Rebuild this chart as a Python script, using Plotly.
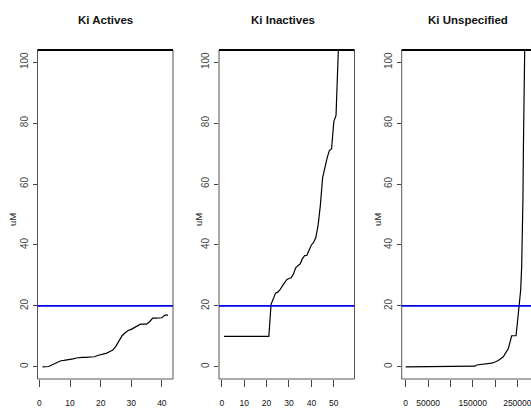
import plotly.graph_objects as go

# ---- data -------------------------------------------------------------
titles = ["Ki Actives", "Ki Inactives", "Ki Unspecified"]
y_label = "uM"
cutoff_um = 20

# sorted Ki values (uM) for the active compounds, ranks 1..42
actives_ki = [0.0, 0.0, 0.1, 0.6, 1.1, 1.6, 2.0, 2.1, 2.2, 2.4,
              2.6, 2.9, 3.1, 3.1, 3.1, 3.1, 3.1, 3.3, 3.7, 4.0,
              4.1, 4.5, 5.0, 5.5, 6.8, 8.7, 10.2, 11.2, 11.9, 12.3,
              12.8, 13.3, 14.0, 14.0, 14.0, 14.8, 16.0, 16.0, 16.0, 16.1,
              17.0, 17.0]

# sorted Ki values (uM) for the inactive compounds, ranks 1..57
inactives_ki = [10, 10, 10, 10, 10, 10, 10, 10, 10, 10,
                10, 10, 10, 10, 10, 10, 10, 10, 10, 10,
                10, 20.5, 22.5, 24.2, 24.5, 25.3, 26.5, 27.8, 28.6, 29.0,
                29.2, 30.5, 32.5, 33.2, 33.8, 35.5, 36.5, 36.6, 38.5, 40.0,
                40.8, 42.5, 46.5, 53.0, 62.0, 65.5, 68.5, 71.0, 71.5, 80.5,
                82.5, 103.5, 150, 250, 500, 1000, 2500]

# unspecified compounds: rank / sorted Ki (uM) breakpoints
unspec_rank = [1, 60000, 120000, 155000, 159000, 181000, 192600, 200000,
               207400, 218600, 229800, 237300, 247000, 250000, 254400,
               257500, 259700, 261000, 262500, 263500, 266400, 268600,
               271000, 275000]
unspec_ki = [0.0, 0.0, 0.1, 0.2, 0.6, 1.0, 1.2, 1.6,
             2.1, 3.3, 6.0, 10.2, 10.2, 14.3, 20.3,
             25.3, 33.0, 40.0, 55.0, 71.0, 92.0, 100.0,
             110.0, 200.0]

x_ticks = [[0, 10, 20, 30, 40],
           [0, 10, 20, 30, 40, 50],
           [0, 50000, 100000, 150000, 200000, 250000, 300000]]
x_ticktext = [["0", "10", "20", "30", "40"],
              ["0", "10", "20", "30", "40", "50"],
              ["0", "50000", "", "150000", "", "250000", ""]]
y_ticks = [0, 20, 40, 60, 80, 100]

# ---- layout geometry (pixels in a 531 x 410 page) ---------------------
W, H = 531, 410
panel_px = [(37.5, 173.0), (219.0, 354.5), (401.7, 531.0)]
top_px, bottom_px = 50.0, 379.0
x_ranges = [[-0.64, 43.64], [-1.24, 59.24], [-8957, 280564]]
y_range = [-4, 104]

sans = "Liberation Sans, Arial, sans-serif"

fig = go.Figure()

series = [
    (list(range(1, len(actives_ki) + 1)), actives_ki),
    (list(range(1, len(inactives_ki) + 1)), inactives_ki),
    (unspec_rank, unspec_ki),
]

shapes = []
annotations = []
ydom = [(H - bottom_px) / H, (H - top_px) / H]

for i, (xs, ys) in enumerate(series):
    sfx = "" if i == 0 else str(i + 1)
    xa, ya = "x" + sfx, "y" + sfx
    fig.add_trace(go.Scatter(
        x=xs, y=ys, mode="lines", xaxis=xa, yaxis=ya,
        line=dict(color="black", width=1.2), showlegend=False,
        hoverinfo="skip",
    ))
    left, right = panel_px[i]
    fig.layout["xaxis" + sfx] = dict(
        domain=[left / W, right / W], range=x_ranges[i], anchor=ya,
        showgrid=False, zeroline=False, showline=False,
        tickmode="array", tickvals=x_ticks[i], ticktext=x_ticktext[i],
        ticks="outside", ticklen=7, tickwidth=1, tickcolor="#444",
        tickangle=0, ticklabelstandoff=9, ticklabeloverflow="allow",
        tickfont=dict(family=sans, size=8.5, color="#111"),
    )
    fig.layout["yaxis" + sfx] = dict(
        domain=ydom, range=y_range, anchor=xa,
        showgrid=False, zeroline=False, showline=False,
        tickmode="array", tickvals=y_ticks,
        ticks="outside", ticklen=4, tickwidth=1, tickcolor="#444",
        tickangle=-90, ticklabelstandoff=1,
        tickfont=dict(family=sans, size=10, color="#444"),
    )

    xd, yd = xa + " domain", ya + " domain"
    # plot box: thin sides, heavier top edge
    shapes.append(dict(type="line", xref=xd, yref=yd, x0=0, x1=0, y0=0, y1=1,
                       line=dict(color="#555", width=1)))
    shapes.append(dict(type="line", xref=xd, yref=yd, x0=0, x1=1, y0=0, y1=0,
                       line=dict(color="#555", width=1)))
    if i < 2:
        shapes.append(dict(type="line", xref=xd, yref=yd, x0=1, x1=1, y0=0, y1=1,
                           line=dict(color="#555", width=1)))
    shapes.append(dict(type="line", xref=xd, yref=yd, x0=0, x1=1, y0=1, y1=1,
                       line=dict(color="black", width=2)))
    # 20 uM cutoff
    shapes.append(dict(type="line", xref=xd, yref=ya, x0=0, x1=1,
                       y0=cutoff_um, y1=cutoff_um,
                       line=dict(color="#0000ee", width=1.8)))

    # panel title
    title_cx = [105, 283, 468][i]
    annotations.append(dict(
        text="<b>%s</b>" % titles[i], xref="paper", yref="paper",
        x=title_cx / W, y=1 - 20 / H, showarrow=False,
        xanchor="center", yanchor="middle",
        font=dict(family=sans, size=11.5, color="#111"),
    ))
    # y-axis label
    label_cx = [12, 198, 377][i]
    annotations.append(dict(
        text=y_label, xref="paper", yref="paper",
        x=label_cx / W, y=(H - 220) / H, showarrow=False, textangle=-90,
        xanchor="center", yanchor="middle",
        font=dict(family=sans, size=9.5, color="#222"),
    ))

fig.update_layout(
    width=W, height=H,
    margin=dict(l=0, r=0, t=0, b=0),
    paper_bgcolor="white", plot_bgcolor="white",
    shapes=shapes, annotations=annotations,
)

fig.write_html("out.html")
